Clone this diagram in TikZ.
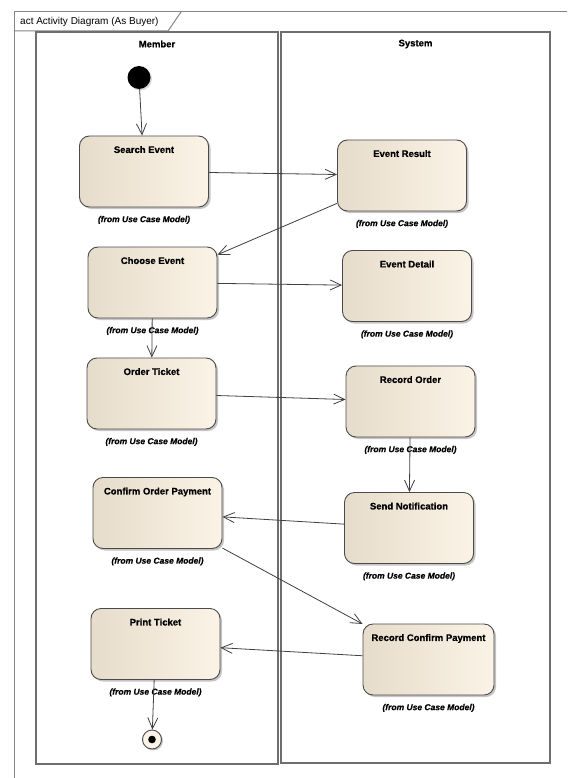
\documentclass[tikz,border=0pt]{standalone}
\usepackage{fontspec}
\setmainfont{Liberation Sans}[BoldFeatures={FakeBold=0.6},BoldItalicFeatures={FakeBold=0.6}]
\usetikzlibrary{arrows.meta,shadows}
\definecolor{actL}{HTML}{E6DCCB}
\definecolor{actR}{HTML}{FBF3E6}
\definecolor{bord}{HTML}{4A4A4A}
\definecolor{lanec}{HTML}{6E6E6E}
\definecolor{framec}{HTML}{858585}
\definecolor{edgec}{HTML}{404040}
\begin{document}
\begin{tikzpicture}[x=1pt,y=-1pt,
  action/.style={draw=bord, line width=0.9pt, rounded corners=10pt,
    minimum width=129pt, minimum height=71pt, inner sep=0pt,
    left color=actL, right color=actR,
    drop shadow={shadow xshift=2pt,shadow yshift=-2pt,opacity=0.45}},
  nametext/.style={font=\fontsize{9.5}{11}\selectfont\bfseries, anchor=north, yshift=-7pt},
  fromtext/.style={font=\fontsize{8.5}{10}\selectfont\bfseries\itshape, label distance=5pt},
  flow/.style={draw=edgec, line width=0.8pt, -{Straight Barb[length=11pt,width=10pt]}},
  lanebox/.style={draw=lanec, line width=1.2pt},
  frameline/.style={draw=framec, line width=1pt},
  lanetitle/.style={font=\fontsize{9.5}{11}\selectfont\bfseries}
]
\useasboundingbox (0,0) rectangle (567,778);
\clip (0,0) rectangle (567,778);
\fill[white] (0,0) rectangle (567,778);

% frame
\draw[frameline] (14,800) -- (14,12) -- (600,12);
\draw[frameline] (14,31) -- (168,31) -- (181,12);
\node[anchor=west, inner sep=0pt, font=\fontsize{10}{12}\selectfont] (hdr) at (20,21.5) {act Activity Diagram (As Buyer)};

% lanes
\draw[lanebox] (36,32) rectangle (278,764);
\draw[lanebox] (281,32) rectangle (550,763);
\node[lanetitle] (lm) at (157,44) {Member};
\node[lanetitle] (ls) at (415.5,44) {System};

% initial and final
\node[circle, fill=black, minimum size=23pt, inner sep=0pt,
  drop shadow={shadow xshift=1.5pt,shadow yshift=-1.5pt,opacity=0.3}] (init) at (139,77.5) {};
\node[circle, draw=bord, line width=0.9pt, fill=actR, minimum size=19pt, inner sep=0pt,
  drop shadow={shadow xshift=1.5pt,shadow yshift=-1.5pt,opacity=0.45}] (fin) at (152,739.5) {};
\fill[black] (fin.center) circle (3.8pt);

% actions
\node[action, label={[nametext]north:Search Event}, label={[fromtext]below:(from Use Case Model)}] (se) at (144,171.5) {};
\node[action, label={[nametext]north:Event Result}, label={[fromtext]below:(from Use Case Model)}] (er) at (402,175.5) {};
\node[action, label={[nametext]north:Choose Event}, label={[fromtext]below:(from Use Case Model)}] (ce) at (152.5,282.5) {};
\node[action, label={[nametext]north:Event Detail}, label={[fromtext]below:(from Use Case Model)}] (ed) at (407,286) {};
\node[action, label={[nametext]north:Order Ticket}, label={[fromtext]below:(from Use Case Model)}] (ot) at (151.5,393.5) {};
\node[action, label={[nametext]north:Record Order}, label={[fromtext]below:(from Use Case Model)}] (ro) at (410.5,401.5) {};
\node[action, label={[nametext]north:Confirm Order Payment}, label={[fromtext]below:(from Use Case Model)}] (cop) at (157.5,513) {};
\node[action, label={[nametext]north:Send Notification}, label={[fromtext]below:(from Use Case Model)}] (sn) at (409,528) {};
\node[action, label={[nametext]north:Print Ticket}, label={[fromtext]below:(from Use Case Model)}] (pt) at (155.5,644) {};
\node[action, minimum width=131pt, label={[nametext]north:Record Confirm Payment}, label={[fromtext]below:(from Use Case Model)}] (rcp) at (428.5,659.5) {};

% flows
\draw[flow] (init) -- (se);
\draw[flow] (se) -- (er);
\draw[flow] (er) -- (ce);
\draw[flow] (ce) -- (ed);
\draw[flow] (ce) -- (ot);
\draw[flow] (ot) -- (ro);
\draw[flow] (ro) -- (sn);
\draw[flow] (sn) -- (cop);
\draw[flow] (cop) -- (rcp);
\draw[flow] (rcp) -- (pt);
\draw[flow] (pt) -- (fin);
\end{tikzpicture}
\end{document}
